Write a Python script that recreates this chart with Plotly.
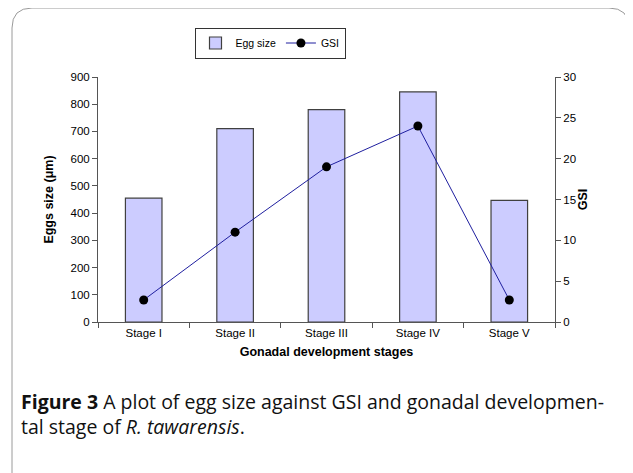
import plotly.graph_objects as go

stages = ["Stage I", "Stage II", "Stage III", "Stage IV", "Stage V"]
egg_size = [455, 710, 780, 845, 447]
gsi = [2.7, 11.0, 19.0, 24.0, 2.7]
left_ticks = [0, 100, 200, 300, 400, 500, 600, 700, 800, 900]
right_ticks = [0, 5, 10, 15, 20, 25, 30]

W, H = 633, 473
OFF = 8  # page body margin
# plot area in window pixels
PL, PR, PT, PB = 98, 555, 77, 322
L = PL - OFF
T = PT - OFF
R = W - (PR - OFF)
B = H - (PB - OFF)

fig = go.Figure()
fig.add_trace(go.Bar(
    x=stages, y=egg_size, name="Egg size",
    marker=dict(color="#CCCCFF", line=dict(color="#404040", width=1.2)),
))
fig.add_trace(go.Scatter(
    x=stages, y=gsi, name="GSI", yaxis="y2", mode="lines+markers",
    line=dict(color="#1f1f9f", width=1),
    marker=dict(color="black", size=9),
))

tick_font = dict(family="Liberation Sans, Arial, sans-serif", size=11.5, color="black")
title_font = dict(family="Liberation Sans, Arial, sans-serif", size=12.5, color="black")
pw = PR - PL
ph = PB - PT


def px2x(px):
    return (px - PL) / pw


def py2y(py):
    return (PB - py) / ph


fig.update_layout(
    width=W, height=H,
    margin=dict(l=L, r=R, t=T, b=B),
    paper_bgcolor="white", plot_bgcolor="white",
    bargap=0.6,
    showlegend=True,
    legend=dict(orientation="h", x=px2x(270), y=py2y(43), xanchor="center", yanchor="middle",
                bordercolor="#333333", borderwidth=1,
                font=dict(family="Liberation Sans, Arial, sans-serif", size=10.5, color="black"),
                itemwidth=30, tracegroupgap=0),
    xaxis=dict(
        type="category", range=[-0.5, 4.5], tickson="boundaries",
        ticks="outside", ticklen=5, tickcolor="#555555",
        showline=True, linecolor="#555555", linewidth=1,
        showgrid=False, tickfont=tick_font,
        title=dict(text="<b>Gonadal development stages</b>", font=title_font, standoff=9),
    ),
    yaxis=dict(
        range=[0, 900], tickvals=left_ticks, ticks="outside", ticklen=5,
        tickcolor="#555555", showline=True, linecolor="#555555", linewidth=1,
        showgrid=False, zeroline=False, tickfont=tick_font,
        title=dict(text="<b>Eggs size (μm)</b>", font=title_font, standoff=14),
    ),
    yaxis2=dict(
        range=[0, 30], tickvals=right_ticks, overlaying="y", side="right",
        ticks="outside", ticklen=5, tickcolor="#555555",
        showline=True, linecolor="#555555", linewidth=1,
        showgrid=False, zeroline=False, tickfont=tick_font,
        title=dict(text="<b>GSI</b>", font=title_font, standoff=3),
    ),
)

# rounded frame around the figure
x0, x1 = px2x(12), px2x(629)
y0t = py2y(8)
yb = py2y(490)
rx = 20 / pw
ry = 20 / ph
path = (f"M {x0},{yb} L {x0},{y0t - ry} Q {x0},{y0t} {x0 + rx},{y0t} "
        f"L {x1 - rx},{y0t} Q {x1},{y0t} {x1},{y0t - ry} L {x1},{yb}")
fig.add_shape(type="path", path=path, xref="paper", yref="paper",
              line=dict(color="#9a9a9a", width=1))

fig.add_annotation(
    text="<b>Figure 3</b> A plot of egg size against GSI and gonadal developmen-<br>tal stage of <i>R. tawarensis</i>.",
    xref="paper", yref="paper", x=px2x(19), y=py2y(386), xanchor="left", yanchor="top",
    align="left", showarrow=False,
    font=dict(family="Open Sans, Noto Sans, sans-serif", size=19.5, color="#111111"),
)

fig.write_html("out.html")
